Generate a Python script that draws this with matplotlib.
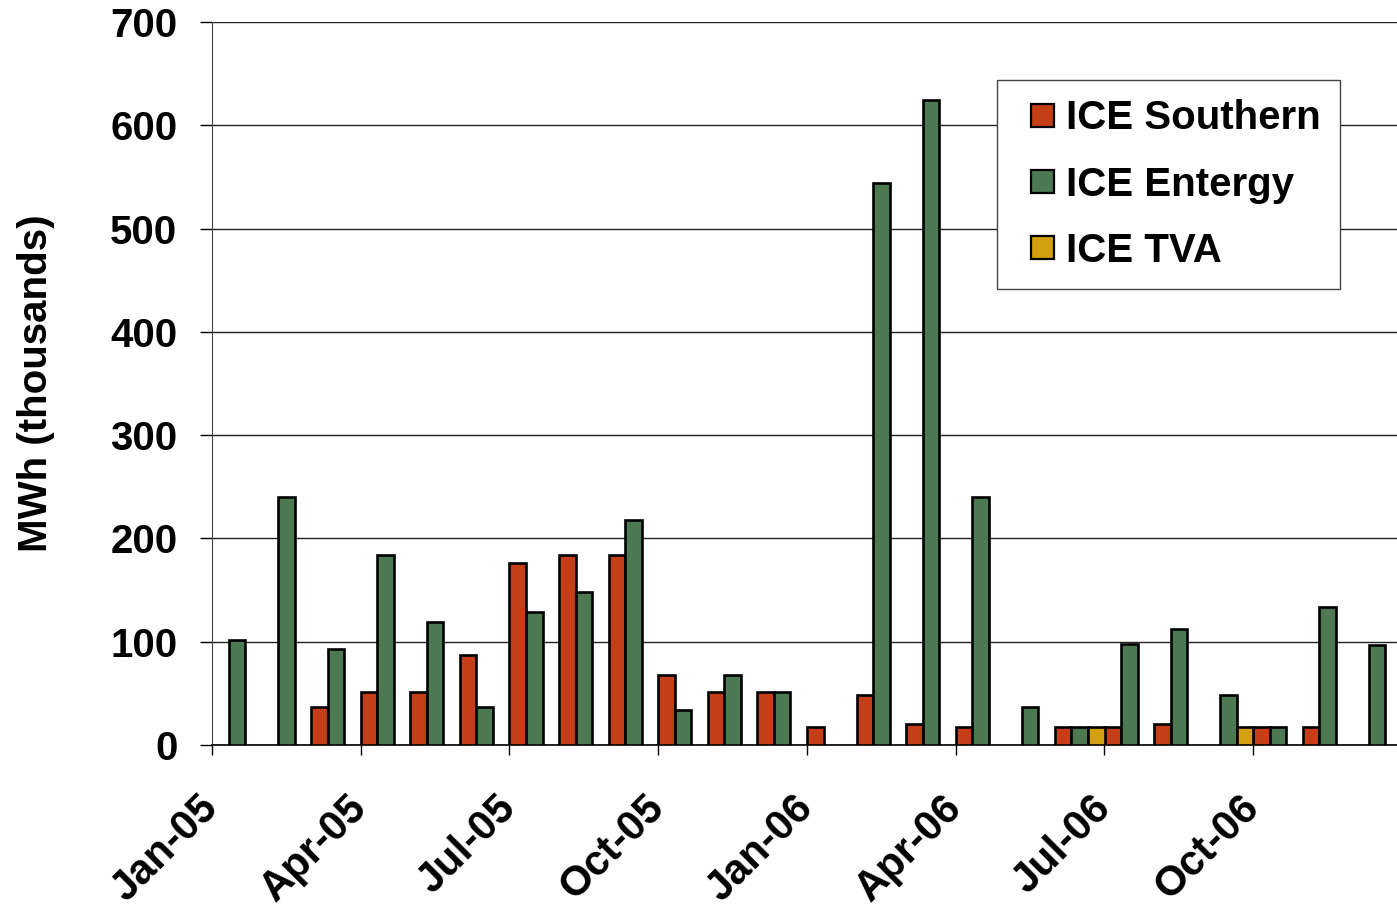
import numpy as np
import matplotlib
matplotlib.use("Agg")
import matplotlib.pyplot as plt
from matplotlib.patches import Rectangle
from matplotlib.legend_handler import HandlerPatch

# monthly volumes, MWh (thousands), Jan-05 .. Dec-06 ; 0 = no trades
months = ['Jan-05', 'Feb-05', 'Mar-05', 'Apr-05', 'May-05', 'Jun-05',
          'Jul-05', 'Aug-05', 'Sep-05', 'Oct-05', 'Nov-05', 'Dec-05',
          'Jan-06', 'Feb-06', 'Mar-06', 'Apr-06', 'May-06', 'Jun-06',
          'Jul-06', 'Aug-06', 'Sep-06', 'Oct-06', 'Nov-06', 'Dec-06']
southern = [0, 0, 37, 51, 51, 87, 176, 184, 184, 68, 51, 51,
            17, 48, 20, 17, 0, 17, 17, 20, 0, 17, 17, 0]
entergy = [102, 240, 93, 184, 119, 37, 129, 148, 218, 34, 68, 51,
           0, 544, 624, 240, 37, 17, 98, 112, 48, 17, 134, 97]
tva = [0, 0, 0, 0, 0, 0, 0, 0, 0, 0, 0, 0,
       0, 0, 0, 0, 0, 17, 0, 0, 17, 0, 0, 0]

series_names = ['ICE Southern', 'ICE Entergy', 'ICE TVA']
colors = ['#C43E16', '#4C7852', '#D4A010']

plt.rcParams['font.family'] = ['Liberation Sans', 'DejaVu Sans']
plt.rcParams['font.weight'] = 'bold'

fig = plt.figure(figsize=(13.97, 9.08), dpi=100)
# axes runs a bit past the right edge of the picture, like the original
ax = fig.add_axes([212 / 1397, 1 - 745 / 908, 1190 / 1397, 723 / 908])

x = np.arange(len(months))
w = 1 / 3
handles = []
for k, (vals, name, col) in enumerate(zip([southern, entergy, tva], series_names, colors)):
    vals = np.array(vals, dtype=float)
    keep = vals > 0
    ax.bar(x[keep] + k * w, vals[keep], width=w, align='edge', color=col,
           edgecolor='black', linewidth=1.9, zorder=3)
    handles.append(Rectangle((0, 0), 1, 1, facecolor=col, edgecolor='black',
                             linewidth=1.6, label=name))

ax.set_xlim(0, len(months))
ax.set_ylim(0, 700)
ax.set_yticks(np.arange(0, 701, 100))
ax.yaxis.grid(True, color='#222222', linewidth=1.0, zorder=0)

# ticks every 3 months at the start of the month
xt = np.arange(0, len(months), 3)
ax.set_xticks(xt)
ax.set_xticklabels([months[i] for i in xt], rotation=45, ha='right',
                   rotation_mode='anchor', va='center', fontsize=30, fontweight='bold')
ax.tick_params(axis='x', length=7, width=1, pad=34)
ax.tick_params(axis='y', length=9, width=1, labelsize=29, pad=16)
for lab in ax.get_yticklabels():
    lab.set_fontweight('bold')

ax.spines['top'].set_visible(False)
ax.spines['right'].set_visible(False)
ax.spines['left'].set_color('#444444')
ax.spines['bottom'].set_color('black')
ax.spines['bottom'].set_linewidth(1.2)

ax.set_ylabel('MWh (thousands)', fontsize=29, fontweight='bold', labelpad=40)


# small square legend key, pushed to the right side of the handle box
def square_key(legend, orig_handle, xdescent, ydescent, width, height, fontsize):
    s = 0.57 * fontsize
    return Rectangle((width - s - xdescent, (height - s) / 2 - ydescent), s, s)


leg = ax.legend(handles=handles, loc='upper left',
                bbox_to_anchor=(997 / 1397, 1 - 80 / 908),
                bbox_transform=fig.transFigure, fontsize=29, frameon=True,
                fancybox=False, edgecolor='#444444', framealpha=1,
                handler_map={Rectangle: HandlerPatch(patch_func=square_key)},
                handlelength=0.94, handleheight=0.6, handletextpad=0.3,
                labelspacing=0.7, borderpad=0.48, borderaxespad=0)
leg.get_frame().set_linewidth(1.0)
for t in leg.get_texts():
    t.set_fontweight('bold')

fig.savefig('out.png', dpi=100)
